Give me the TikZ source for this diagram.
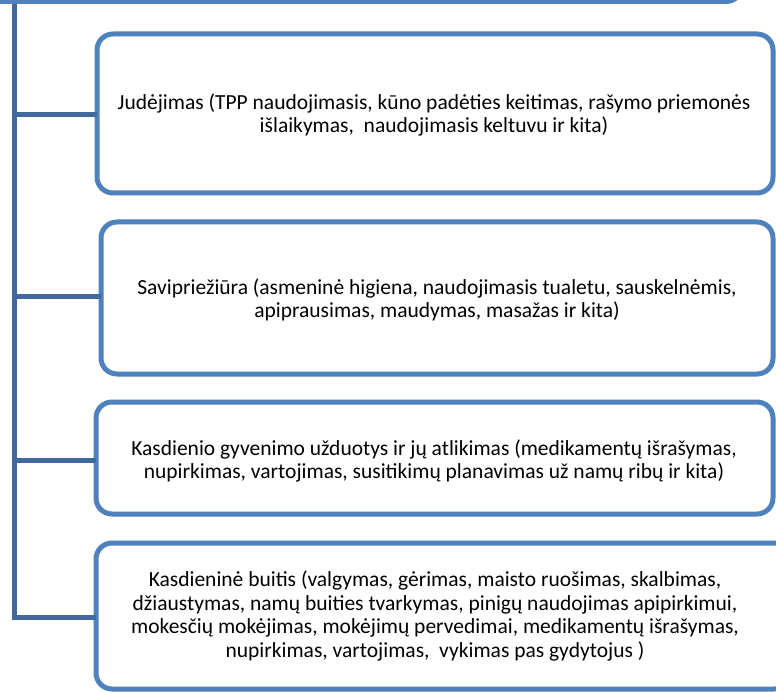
\documentclass[tikz,border=0pt]{standalone}
\usepackage{fontspec}
\setmainfont{Carlito}
\definecolor{boxblue}{HTML}{4F81BD}
\definecolor{linkblue}{HTML}{41699E}
\begin{document}
\begin{tikzpicture}[x=1pt,y=-1pt,
  box/.style={draw=boxblue,line width=5pt,rounded corners=16pt},
  link/.style={draw=linkblue,line width=5pt},
  txt/.style={align=center,font=\fontsize{21.5}{23.5}\selectfont,inner sep=0pt}]
\useasboundingbox (0,0) rectangle (776,692);
\fill[white] (0,0) rectangle (776,692);
% top box (cut off)
\draw[box] (-30,-60) rectangle (742,1.5);
% boxes
\draw[box] (97,34) rectangle (773,193);
\draw[box] (101,222) rectangle (773,374);
\draw[box] (96,402) rectangle (773,514);
\draw[box] (96,543) rectangle (790,689);
% texts
\node[txt] (t1) at (434,115) {Judėjimas (TPP naudojimasis, kūno padėties keitimas, rašymo priemonės\\išlaikymas,\ \ naudojimasis keltuvu ir kita)};
\node[txt] (t2) at (437,300) {Savipriežiūra (asmeninė higiena, naudojimasis tualetu, sauskelnėmis,\\apiprausimas, maudymas, masažas ir kita)};
\node[txt] (t3) at (434,461) {Kasdienio gyvenimo užduotys ir jų atlikimas (medikamentų išrašymas,\\nupirkimas, vartojimas, susitikimų planavimas už namų ribų ir kita)};
\node[txt] (t4) at (435,616) {Kasdieninė buitis (valgymas, gėrimas, maisto ruošimas, skalbimas,\\džiaustymas, namų buities tvarkymas, pinigų naudojimas apipirkimui,\\mokesčių mokėjimas, mokėjimų pervedimai, medikamentų išrašymas,\\nupirkimas, vartojimas,\ \ vykimas pas gydytojus )};
% connectors
\coordinate (top) at (14.5,4);
\coordinate (j1) at (14.5,115);
\coordinate (j2) at (14.5,297);
\coordinate (j3) at (14.5,460);
\coordinate (j4) at (14.5,617);
\coordinate (b1) at (97,115);
\coordinate (b2) at (101,297);
\coordinate (b3) at (96,460);
\coordinate (b4) at (96,617);
\draw[link] (top) -- ([yshift=2.5pt]j4);
\draw[link] ([xshift=-2.5pt]j1) -- (b1);
\draw[link] ([xshift=-2.5pt]j2) -- (b2);
\draw[link] ([xshift=-2.5pt]j3) -- (b3);
\draw[link] ([xshift=-2.5pt]j4) -- (b4);
\end{tikzpicture}
\end{document}
